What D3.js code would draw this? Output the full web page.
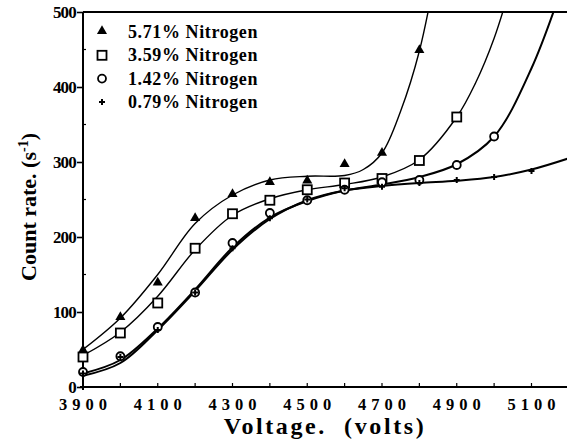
<!DOCTYPE html>
<html>
<head>
<meta charset="utf-8">
<script src="https://cdn.jsdelivr.net/npm/d3@7"></script>
<style>
  body { margin: 0; background: #fff; }
  svg { display: block; }
  text { font-family: "Liberation Serif", "DejaVu Serif", serif; font-weight: bold; fill: #000; }
</style>
</head>
<body>
<svg id="chart" width="567" height="443"></svg>
<script>
// measured points, volts
var volts = [3900, 4000, 4100, 4200, 4300, 4400, 4500, 4600, 4700, 4800, 4900, 5000, 5100];
var n571 = [48, 92, 138, 224, 256, 272, 274, 296, 311, 448];
var n359 = [40, 72, 112, 185, 231, 249, 263, 272, 278, 302, 360];
var n142 = [20, 41, 80, 126, 192, 232, 249, 263, 273, 276, 296, 334];
var n079 = [18, 40, 76, 126, 185, 225, 250, 265, 267, 272, 276, 280, 288];

// fitted curves
var fit571V = [3900, 4000, 4100, 4200, 4300, 4400, 4500, 4600, 4650, 4700, 4750, 4800, 4850];
var fit571  = [50, 92, 150, 218, 256, 276, 281, 282, 290, 312, 368, 448, 570];
var fit359V = [3900, 4000, 4100, 4200, 4300, 4400, 4500, 4600, 4700, 4800, 4900, 4950, 5000, 5050];
var fit359  = [42, 73, 121, 183, 229, 251, 263, 270, 280, 303, 360, 405, 465, 545];
var fit142V = [3900, 4000, 4100, 4200, 4300, 4400, 4500, 4600, 4700, 4800, 4900, 5000, 5100, 5200];
var fit142  = [18, 36, 78, 130, 186, 226, 248, 262, 270, 280, 297, 334, 425, 560];
var fit079V = [3900, 4000, 4100, 4200, 4300, 4400, 4500, 4600, 4700, 4800, 4900, 5000, 5100, 5200];
var fit079  = [15, 32, 76, 128, 183, 224, 249, 262, 268, 272, 275, 280, 290, 305];

var legendLabels = ["5.71% Nitrogen", "3.59% Nitrogen", "1.42% Nitrogen", "0.79% Nitrogen"];
var yTicks = [0, 100, 200, 300, 400, 500];
var xTicks = [3900, 4100, 4300, 4500, 4700, 4900, 5100];

var svg = d3.select("#chart");
var padL = 83, padT = 12, padB = 387, padR = 567;

var x = d3.scaleLinear().domain([3900, 5195]).range([padL, padR]);
var y = d3.scaleLinear().domain([0, 500]).range([padB, padT]);

svg.append("clipPath").attr("id", "plot")
  .append("rect").attr("x", padL).attr("y", padT).attr("width", padR - padL).attr("height", padB - padT);

// axes
svg.append("line").attr("x1", padL).attr("x2", padL).attr("y1", padT).attr("y2", padB + 3)
  .attr("stroke", "#000").attr("stroke-width", 2);
svg.append("line").attr("x1", padL - 3).attr("x2", padR).attr("y1", padB).attr("y2", padB)
  .attr("stroke", "#000").attr("stroke-width", 2);
svg.append("line").attr("x1", padL).attr("x2", padR).attr("y1", padT).attr("y2", padT)
  .attr("stroke", "#000").attr("stroke-width", 1.8);

var yAxis = d3.axisLeft(y).tickValues(yTicks).tickSize(6).tickFormat(d3.format("d"));
var gy = svg.append("g").attr("transform", "translate(" + padL + ",0)").call(yAxis);
gy.select(".domain").remove();
gy.selectAll("line").attr("stroke-width", 1.6);
gy.selectAll("text").attr("font-size", 17).attr("letter-spacing", -0.8).attr("x", -7)
  .style("font-family", '"Liberation Serif", serif').style("font-weight", "bold");

// minor y ticks
svg.append("g").selectAll("line").data(d3.range(50, 500, 100)).join("line")
  .attr("x1", padL).attr("x2", padL + 3).attr("y1", d => y(d)).attr("y2", d => y(d))
  .attr("stroke", "#000").attr("stroke-width", 1.2);

// x ticks
svg.append("g").selectAll("line").data(d3.range(3900, 5200, 100)).join("line")
  .attr("x1", d => x(d)).attr("x2", d => x(d)).attr("y1", padB).attr("y2", padB - 4)
  .attr("stroke", "#000").attr("stroke-width", 1.2);
svg.append("g").selectAll("text").data(xTicks).join("text")
  .attr("x", d => x(d) + 2.5).attr("y", 410)
  .attr("text-anchor", "middle").attr("font-size", 16.5).attr("letter-spacing", 5)
  .text(d => d);

// axis titles
svg.append("text").attr("x", 325).attr("y", 434).attr("text-anchor", "middle")
  .attr("font-size", 24).attr("letter-spacing", 2.6)
  .text("Voltage.\u00a0\u00a0(volts)");

var yt = svg.append("text").attr("transform", "translate(36,207) rotate(-90)")
  .attr("text-anchor", "middle").attr("font-size", 22);
yt.append("tspan").text("Count rate. (s");
yt.append("tspan").attr("font-size", 14).attr("dy", -8).text("-1");
yt.append("tspan").attr("dy", 8).text(")");

// curves
var line = d3.line().x(d => x(d[0])).y(d => y(d[1])).curve(d3.curveCatmullRom.alpha(0.5));
var fits = [[fit571V, fit571, 1.4], [fit359V, fit359, 1.4], [fit142V, fit142, 2], [fit079V, fit079, 2]];
var curves = svg.append("g").attr("clip-path", "url(#plot)");
fits.forEach(function(f){
  curves.append("path").attr("d", line(d3.zip(f[0], f[1])))
    .attr("fill", "none").attr("stroke", "#000").attr("stroke-width", f[2]);
});

// markers
function marker(g, type, cx, cy){
  if(type == 0){
    g.append("path").attr("d", d3.symbol(d3.symbolTriangle, 44)())
      .attr("transform", "translate(" + cx + "," + (cy - 1) + ")").attr("fill", "#000");
  } else if(type == 1){
    g.append("rect").attr("x", cx - 4.5).attr("y", cy - 4.5).attr("width", 9).attr("height", 9)
      .attr("fill", "#fff").attr("stroke", "#000").attr("stroke-width", 1.8);
  } else if(type == 2){
    g.append("circle").attr("cx", cx).attr("cy", cy).attr("r", 4)
      .attr("fill", "#fff").attr("stroke", "#000").attr("stroke-width", 1.8);
  } else {
    g.append("path").attr("d", "M" + (cx - 3) + "," + cy + "h6M" + cx + "," + (cy - 3) + "v6")
      .attr("stroke", "#000").attr("stroke-width", 2);
  }
}
var series = [n571, n359, n142, n079];
var pts = svg.append("g");
series.forEach(function(s, i){
  s.forEach(function(v, j){ marker(pts, i, x(volts[j]), y(v)); });
});

// legend
var lg = svg.append("g");
legendLabels.forEach(function(t, i){
  var cy = 32 + i * 23.3;
  marker(lg, i, 102, cy);
  lg.append("text").attr("x", 128).attr("y", cy + 6).attr("font-size", 18).attr("letter-spacing", 0.6).text(t);
});
</script>
</body>
</html>
